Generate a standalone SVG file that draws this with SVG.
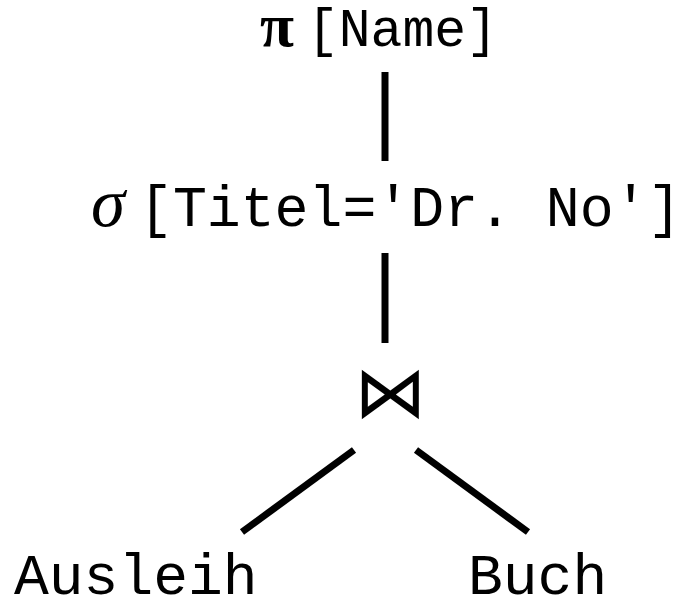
<svg xmlns="http://www.w3.org/2000/svg" width="684" height="597" viewBox="0 0 684 597">
<style>
.mono{font-family:"Liberation Mono","Courier New",monospace;fill:#000}
.greek{font-family:"Liberation Serif","Times New Roman",serif;fill:#000}
.edge{stroke:#000;stroke-width:7;fill:none}
</style>
<rect width="684" height="597" fill="#fff"/>
<g id="connectors">
<line class="edge" x1="385" y1="72" x2="385" y2="161"/>
<line class="edge" x1="385" y1="253" x2="385" y2="343"/>
<line class="edge" x1="354" y1="450" x2="242" y2="532"/>
<line class="edge" x1="416" y1="450" x2="528" y2="532"/>
</g>
<g id="node-projection">
<text y="46"><tspan class="greek" x="260" font-size="62" font-weight="bold">π</tspan><tspan class="mono" x="307" font-size="53">[Name]</tspan></text>
</g>
<g id="node-selection">
<text y="226"><tspan class="greek" x="91" font-size="69" font-style="italic">σ</tspan><tspan class="mono" x="139" font-size="56.5">[Titel='Dr. No']</tspan></text>
</g>
<g id="node-join">
<text x="390" y="417" text-anchor="middle" font-family="DejaVu Sans, sans-serif" font-size="72">⋈</text>
</g>
<g id="node-ausleih">
<text class="mono" x="14" y="594" font-size="58">Ausleih</text>
</g>
<g id="node-buch">
<text class="mono" x="468" y="594" font-size="58">Buch</text>
</g>
</svg>
